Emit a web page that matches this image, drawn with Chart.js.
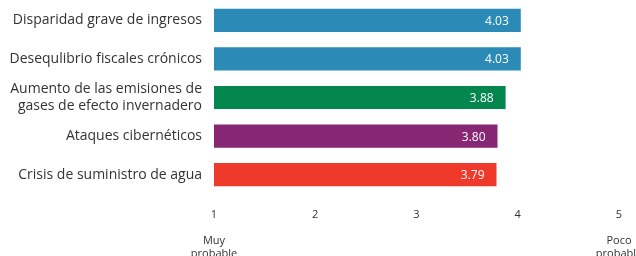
<!DOCTYPE html>
<html>
<head>
<meta charset="utf-8">
<script src="https://cdn.jsdelivr.net/npm/chart.js@4/dist/chart.umd.min.js"></script>
<style>
  html, body { margin: 0; padding: 0; background: #fff; }
  #wrap { width: 636px; height: 256px; position: relative; }
</style>
</head>
<body>
<div id="wrap"><canvas id="c" width="636" height="256"></canvas></div>
<script>
const categories = [
  "Disparidad grave de ingresos",
  "Desequlibrio fiscales crónicos",
  ["Aumento de las emisiones de", "gases de efecto invernadero"],
  "Ataques cibernéticos",
  "Crisis de suministro de agua"
];
const values = [4.03, 4.03, 3.88, 3.80, 3.79];
const valueLabels = ["4.03", "4.03", "3.88", "3.80", "3.79"];
const barColors = ["#2b8bb6", "#2b8bb6", "#04874f", "#872672", "#ef392b"];
const tickValues = [1, 2, 3, 4, 5];
const tickCaptions = { 1: ["Muy", "probable"], 5: ["Poco", "probable"] };

const FONT = "'Open Sans', 'Noto Sans', sans-serif";

const valueLabelPlugin = {
  id: 'valueLabels',
  afterDatasetsDraw(chart) {
    const ctx = chart.ctx;
    const meta = chart.getDatasetMeta(0);
    ctx.save();
    ctx.font = "12px " + FONT;
    ctx.fillStyle = "#ffffff";
    ctx.textAlign = "right";
    ctx.textBaseline = "middle";
    meta.data.forEach((bar, i) => {
      ctx.fillText(valueLabels[i], bar.x - 12, bar.y + 1);
    });
    ctx.restore();
  }
};

new Chart(document.getElementById('c'), {
  type: 'bar',
  data: {
    labels: categories,
    datasets: [{
      data: values.map(v => [1, v]),
      backgroundColor: barColors,
      borderWidth: 0,
      barPercentage: 0.6,
      categoryPercentage: 1.0
    }]
  },
  options: {
    indexAxis: 'y',
    responsive: false,
    animation: false,
    devicePixelRatio: 1,
    layout: { padding: { top: 1, right: 17, left: 0, bottom: 0 } },
    plugins: { legend: { display: false }, tooltip: { enabled: false } },
    scales: {
      x: {
        type: 'linear',
        min: 1,
        max: 5,
        grid: { display: false, drawTicks: false },
        border: { display: false },
        afterBuildTicks(scale) {
          scale.ticks = tickValues.map(v => ({ value: v }));
        },
        ticks: {
          padding: 14,
          color: "#333333",
          font: { family: FONT, size: 11, lineHeight: 1.18 },
          maxRotation: 0,
          autoSkip: false,
          callback(value) {
            const cap = tickCaptions[value];
            return cap ? [String(value), "", cap[0], cap[1]] : String(value);
          }
        },
        afterFit(scale) {
          scale.paddingLeft = 0;
          scale.paddingRight = 0;
          scale.height = 62;
        }
      },
      y: {
        grid: { display: false, drawTicks: false },
        border: { display: false },
        ticks: {
          padding: 12,
          color: "#333333",
          font: { family: FONT, size: 14, lineHeight: 1.15 },
          autoSkip: false
        },
        afterFit(scale) {
          scale.width = 214;
          scale.paddingTop = 0;
          scale.paddingBottom = 0;
        }
      }
    }
  },
  plugins: [valueLabelPlugin]
});
</script>
</body>
</html>
